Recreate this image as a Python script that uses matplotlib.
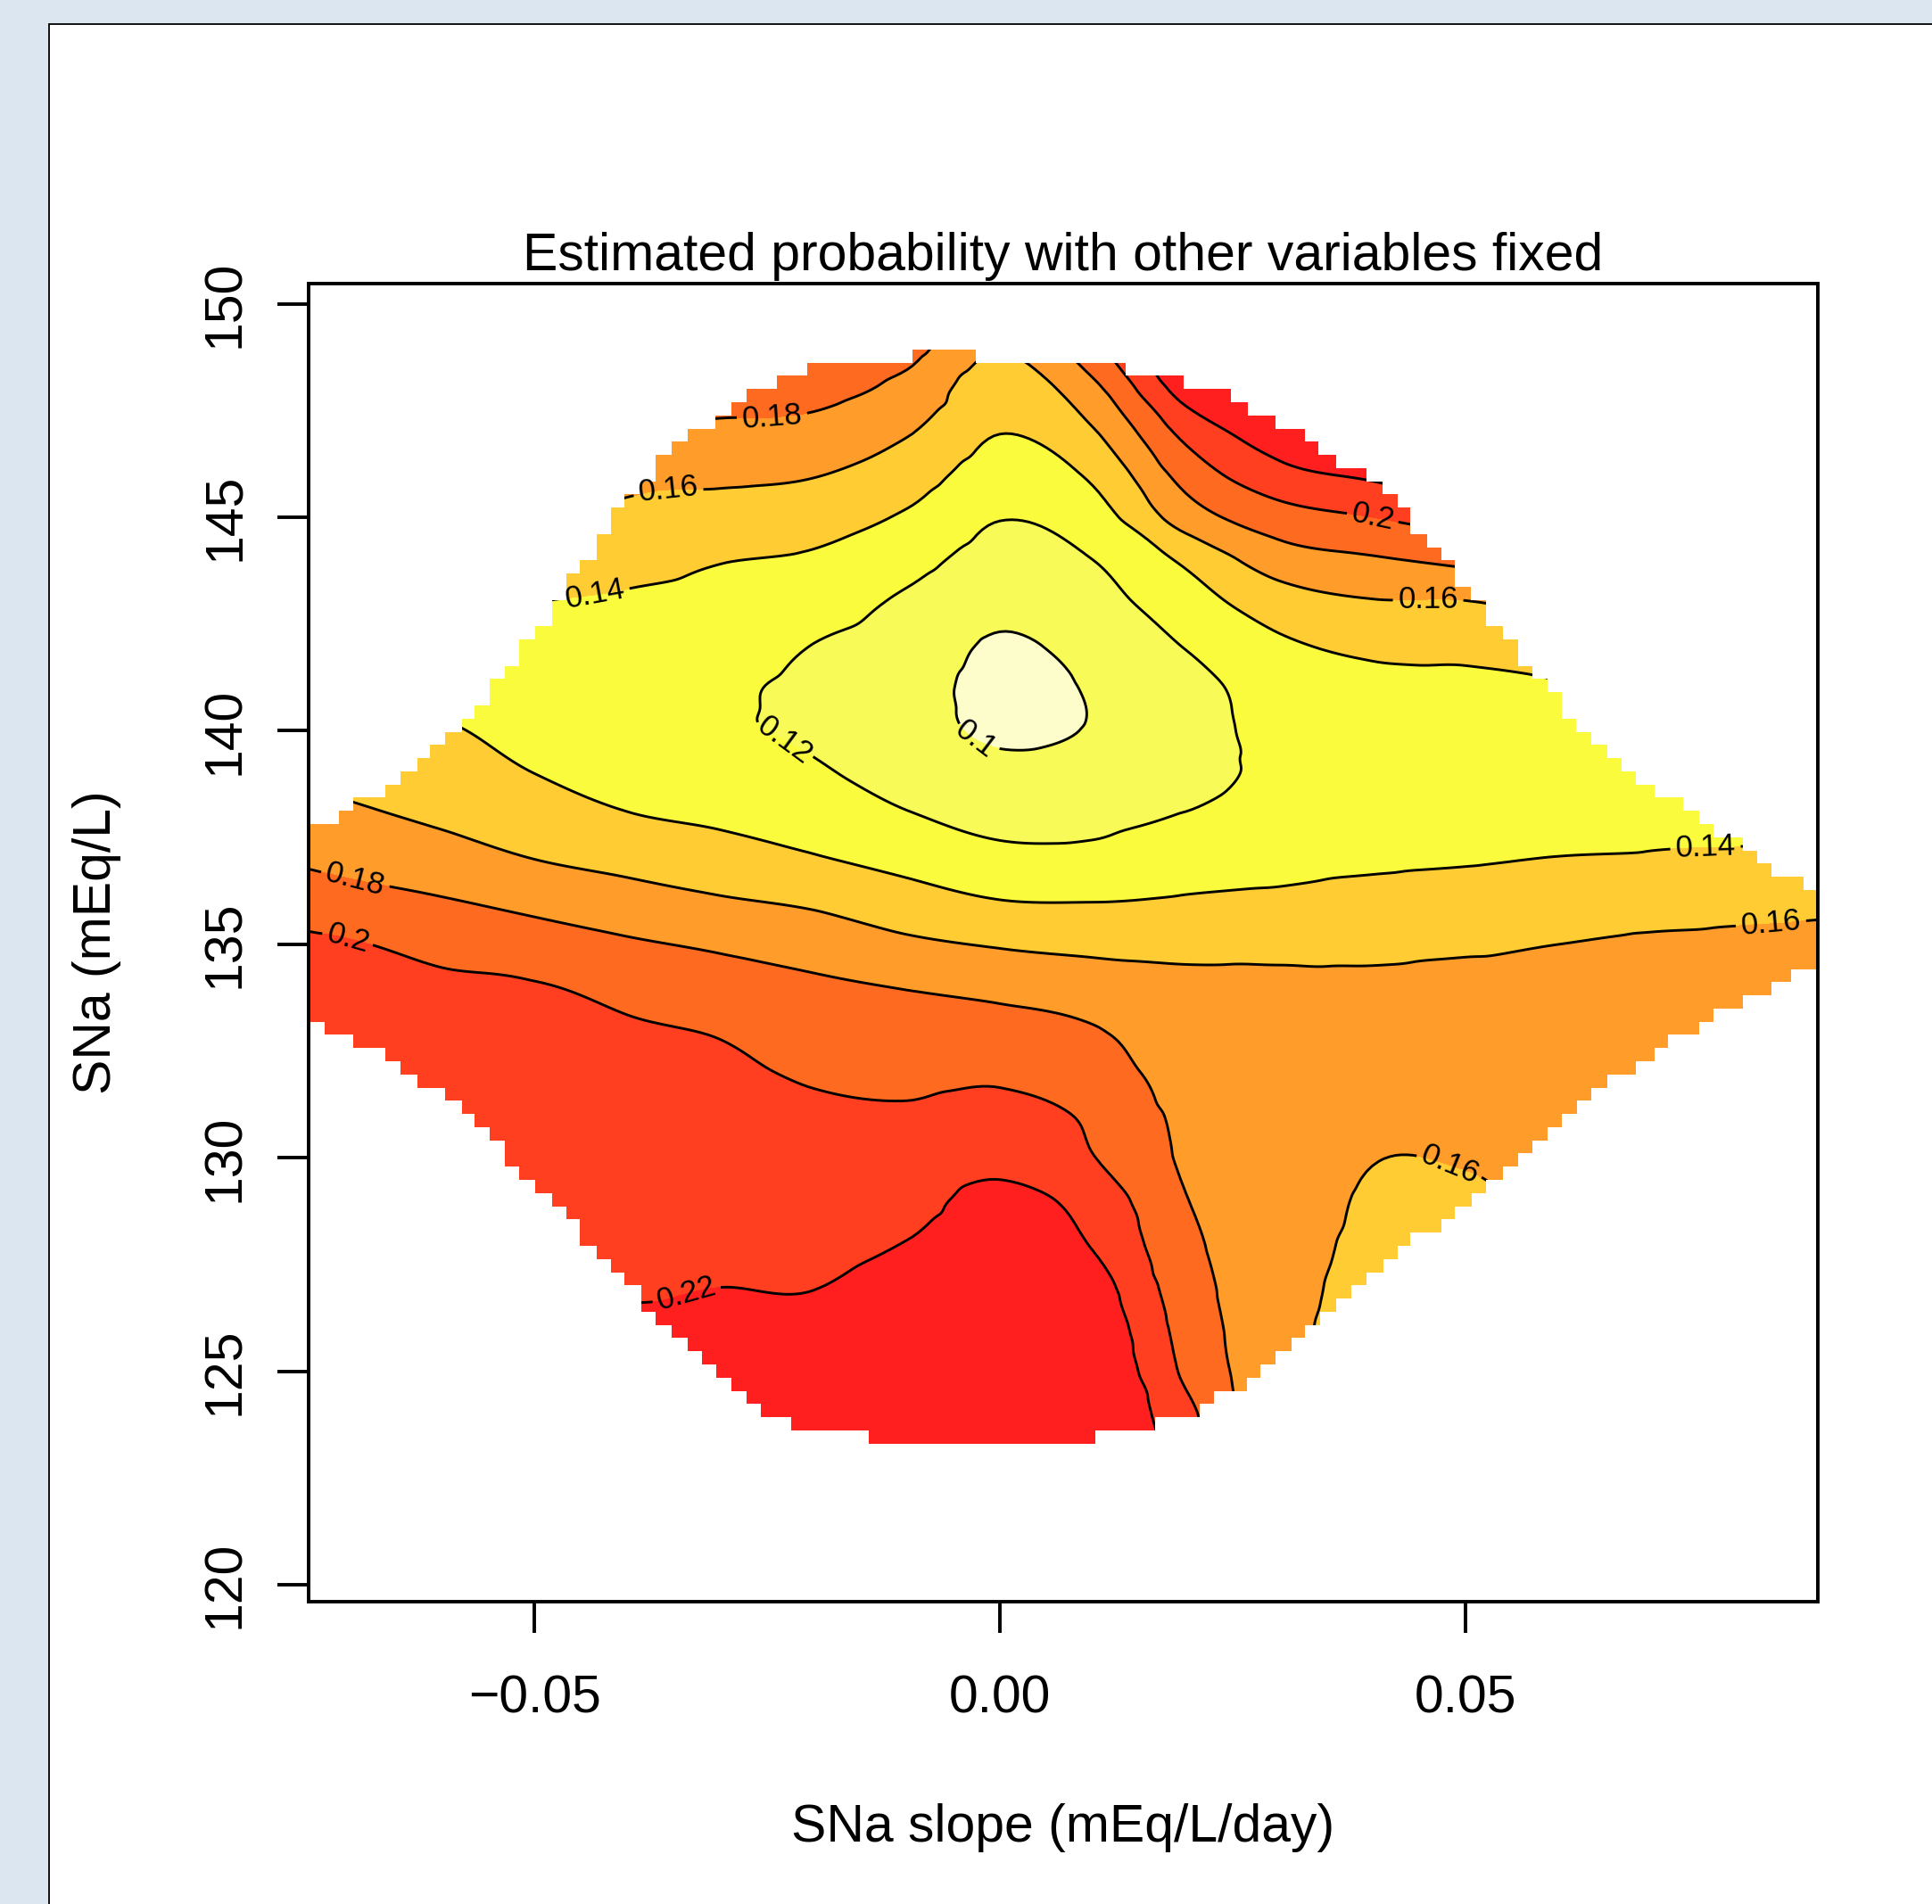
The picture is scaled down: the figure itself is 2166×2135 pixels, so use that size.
import numpy as np
import matplotlib
matplotlib.use("Agg")
import matplotlib.pyplot as plt
import matplotlib.tri as mtri
from matplotlib.path import Path
from matplotlib.patches import PathPatch, Rectangle

plt.rcParams['font.family'] = ['Liberation Sans', 'DejaVu Sans']

TITLE = "Estimated probability with other variables fixed"
X_LABEL = "SNa slope (mEq/L/day)"
Y_LABEL = "SNa (mEq/L)"

# grid nodes of the estimated surface
SLOPE = [-0.08, -0.07, -0.06, -0.05, -0.04, -0.03, -0.02, -0.01, 0.00,
         0.01, 0.02, 0.03, 0.04, 0.05, 0.06, 0.07, 0.08, 0.09]
SNA = [149, 148, 147, 146, 145, 144, 143, 142, 141, 140, 139, 138, 137,
       136, 135, 134, 133, 132, 131, 130, 129, 128, 127, 126, 125, 124, 123]

# estimated probability, one row per SNa value (top to bottom), one column per slope
PROB = [
    [0.200, 0.200, 0.200, 0.200, 0.197, 0.195, 0.193, 0.187, 0.162, 0.195, 0.245, 0.260, 0.270, 0.280, 0.290, 0.295, 0.300, 0.300],
    [0.195, 0.195, 0.194, 0.192, 0.190, 0.188, 0.186, 0.1745, 0.148, 0.175, 0.229, 0.250, 0.260, 0.270, 0.280, 0.285, 0.290, 0.290],
    [0.190, 0.190, 0.188, 0.184, 0.178, 0.176, 0.174, 0.1616, 0.1405, 0.1584, 0.206, 0.2315, 0.245, 0.255, 0.265, 0.270, 0.275, 0.275],
    [0.180, 0.180, 0.178, 0.172, 0.165, 0.164, 0.161, 0.1495, 0.1313, 0.1434, 0.1876, 0.214, 0.2235, 0.235, 0.245, 0.250, 0.255, 0.255],
    [0.165, 0.165, 0.163, 0.160, 0.1558, 0.1519, 0.1486, 0.1377, 0.1208, 0.1313, 0.1699, 0.191, 0.200, 0.210, 0.220, 0.225, 0.230, 0.230],
    [0.155, 0.155, 0.153, 0.149, 0.1455, 0.1408, 0.1373, 0.1264, 0.113, 0.120, 0.1436, 0.1704, 0.1778, 0.185, 0.195, 0.200, 0.205, 0.205],
    [0.145, 0.145, 0.143, 0.140, 0.1378, 0.1345, 0.1284, 0.117, 0.1053, 0.1132, 0.131, 0.1503, 0.1585, 0.159, 0.166, 0.172, 0.176, 0.176],
    [0.140, 0.138, 0.136, 0.135, 0.133, 0.1295, 0.1197, 0.111, 0.098, 0.1064, 0.121, 0.1368, 0.1439, 0.1449, 0.152, 0.155, 0.160, 0.160],
    [0.140, 0.138, 0.136, 0.132, 0.1295, 0.1232, 0.1155, 0.107, 0.095, 0.1015, 0.113, 0.129, 0.135, 0.136, 0.138, 0.140, 0.145, 0.145],
    [0.150, 0.148, 0.142, 0.1345, 0.129, 0.1225, 0.117, 0.107, 0.097, 0.101, 0.111, 0.127, 0.131, 0.132, 0.133, 0.136, 0.138, 0.140],
    [0.160, 0.155, 0.1499, 0.140, 0.134, 0.1314, 0.1227, 0.112, 0.1053, 0.1076, 0.111, 0.126, 0.1295, 0.131, 0.132, 0.134, 0.135, 0.137],
    [0.1696, 0.1633, 0.157, 0.150, 0.141, 0.1372, 0.1318, 0.1215, 0.1142, 0.115, 0.1211, 0.1319, 0.132, 0.133, 0.134, 0.137, 0.138, 0.139],
    [0.1809, 0.1744, 0.1679, 0.1599, 0.154, 0.1475, 0.1414, 0.134, 0.1252, 0.1248, 0.1314, 0.1345, 0.137, 0.1385, 0.1405, 0.1413, 0.1418, 0.1423],
    [0.1926, 0.1871, 0.1816, 0.1749, 0.1681, 0.1621, 0.157, 0.1481, 0.1407, 0.1398, 0.1419, 0.1435, 0.1461, 0.1483, 0.1503, 0.1521, 0.1539, 0.1557],
    [0.208, 0.2015, 0.195, 0.1888, 0.1825, 0.1773, 0.1719, 0.1636, 0.1584, 0.1555, 0.1544, 0.1544, 0.1551, 0.1573, 0.160, 0.1625, 0.164, 0.1655],
    [0.209, 0.206, 0.203, 0.2013, 0.1952, 0.1884, 0.1833, 0.1792, 0.1749, 0.1693, 0.165, 0.1648, 0.164, 0.1655, 0.1655, 0.166, 0.168, 0.170],
    [0.211, 0.209, 0.207, 0.2055, 0.2017, 0.1986, 0.1906, 0.1874, 0.1868, 0.1812, 0.1675, 0.1665, 0.1655, 0.1665, 0.167, 0.168, 0.170, 0.172],
    [0.212, 0.211, 0.210, 0.2085, 0.2045, 0.2029, 0.1979, 0.1952, 0.1967, 0.1876, 0.1735, 0.1695, 0.1655, 0.166, 0.167, 0.169, 0.172, 0.175],
    [0.214, 0.213, 0.212, 0.211, 0.2073, 0.2063, 0.203, 0.2023, 0.2057, 0.197, 0.176, 0.171, 0.1635, 0.164, 0.166, 0.170, 0.172, 0.175],
    [0.215, 0.215, 0.214, 0.213, 0.2101, 0.2097, 0.2071, 0.2084, 0.2143, 0.2006, 0.1775, 0.1705, 0.1605, 0.161, 0.165, 0.168, 0.172, 0.175],
    [0.216, 0.216, 0.215, 0.215, 0.213, 0.2131, 0.2113, 0.2144, 0.225, 0.2125, 0.1806, 0.1695, 0.158, 0.1575, 0.163, 0.167, 0.170, 0.172],
    [0.217, 0.217, 0.217, 0.217, 0.2158, 0.2165, 0.2154, 0.2204, 0.230, 0.2186, 0.1846, 0.168, 0.1565, 0.156, 0.162, 0.166, 0.170, 0.170],
    [0.218, 0.218, 0.218, 0.219, 0.2186, 0.2199, 0.2196, 0.226, 0.234, 0.2277, 0.1886, 0.167, 0.155, 0.155, 0.161, 0.165, 0.170, 0.170],
    [0.219, 0.219, 0.220, 0.221, 0.222, 0.223, 0.2235, 0.231, 0.237, 0.234, 0.1926, 0.166, 0.154, 0.155, 0.160, 0.165, 0.170, 0.170],
    [0.220, 0.220, 0.221, 0.222, 0.224, 0.226, 0.227, 0.234, 0.239, 0.238, 0.1965, 0.166, 0.155, 0.156, 0.160, 0.165, 0.170, 0.170],
    [0.220, 0.220, 0.222, 0.224, 0.226, 0.228, 0.229, 0.236, 0.240, 0.240, 0.205, 0.167, 0.158, 0.157, 0.160, 0.165, 0.170, 0.170],
    [0.220, 0.220, 0.222, 0.224, 0.226, 0.228, 0.230, 0.237, 0.240, 0.240, 0.210, 0.170, 0.160, 0.158, 0.160, 0.165, 0.170, 0.170],
]

LEVELS = [0.10, 0.12, 0.14, 0.16, 0.18, 0.20, 0.22]
BAND_EDGES = [0.0] + LEVELS + [1.0]
FILL_COLORS = ['#fdfdcc', '#f8fa58', '#fbfb3d', '#ffcc33',
               '#ff9c2a', '#ff6a21', '#ff3f1f', '#ff1f1f']

# axis ranges and the raster of the "too far" mask (100 x 100 cells)
X_RANGE = (-0.0743, 0.0878)
Y_RANGE = (119.61, 150.47)
N_GRID = 100
MASK_TOP_EDGE = 95   # grid edge index of the top of the drawn region
# left / right extent (slope units) of the drawn region in each raster row, top to bottom
MASK_LO = [-0.0094, -0.0207, -0.0240, -0.0272, -0.0288, -0.0306, -0.0335, -0.0353, -0.0370, -0.0370,
           -0.0385, -0.0403, -0.0418, -0.0418, -0.0433, -0.0433, -0.0451, -0.0466, -0.0466, -0.0481,
           -0.0481, -0.0499, -0.0516, -0.0516, -0.0532, -0.0548, -0.0548, -0.0564, -0.0578, -0.0596,
           -0.0612, -0.0626, -0.0644, -0.0660, -0.0695, -0.0710,
           -0.0745, -0.0745, -0.0745, -0.0745, -0.0745, -0.0745, -0.0745, -0.0745, -0.0745, -0.0745,
           -0.0745, -0.0745, -0.0745, -0.0745, -0.0745,
           -0.0725, -0.0695, -0.0660, -0.0644, -0.0626, -0.0596, -0.0578, -0.0564, -0.0548, -0.0532,
           -0.0532, -0.0516, -0.0499, -0.0481, -0.0466, -0.0451, -0.0451, -0.0433, -0.0418, -0.0403,
           -0.0385, -0.0385, -0.0370, -0.0353, -0.0335, -0.0320, -0.0305, -0.0288, -0.0272, -0.0257,
           -0.0224, -0.0141]
MASK_HI = [-0.0026, 0.0135, 0.0197, 0.0248, 0.0266, 0.0296, 0.0328, 0.0342, 0.0361, 0.0394,
           0.0411, 0.0427, 0.0441, 0.0441, 0.0459, 0.0474, 0.0489, 0.0489, 0.0506, 0.0522,
           0.0522, 0.0540, 0.0557, 0.0557, 0.0572, 0.0588, 0.0604, 0.0604, 0.0619, 0.0635,
           0.0652, 0.0668, 0.0683, 0.0703, 0.0734, 0.0751, 0.0766, 0.0798, 0.0813, 0.0829,
           0.0863, 0.0880, 0.0880, 0.0880, 0.0880, 0.0880, 0.0880,
           0.0850, 0.0829, 0.0798, 0.0766, 0.0751, 0.0718, 0.0703, 0.0683, 0.0652, 0.0635,
           0.0620, 0.0604, 0.0588, 0.0572, 0.0557, 0.0540, 0.0522, 0.0507, 0.0489, 0.0474,
           0.0441, 0.0427, 0.0412, 0.0394, 0.0377, 0.0361, 0.0344, 0.0328, 0.0313, 0.0296,
           0.0280, 0.0265, 0.0230, 0.0215, 0.0167, 0.0102]

LABEL_POS = [(-0.0245, 147.41), (-0.0356, 145.48), (-0.0434, 143.09), (0.0401, 145.04),
             (0.0460, 143.05), (-0.0015, 140.06), (-0.0240, 139.55), (0.0758, 137.15),
             (-0.0693, 136.48), (0.0828, 135.53), (-0.0701, 135.10), (0.0484, 129.86),
             (-0.0337, 126.83)]

X_TICKS = [-0.05, 0.00, 0.05]
X_TICK_LABELS = ['\u22120.05', '0.00', '0.05']
Y_TICKS = [120, 125, 130, 135, 140, 145, 150]

W, H = 2166, 2135
fig = plt.figure(figsize=(W / 100, H / 100), dpi=100, facecolor='#dce6f1')
panel = Rectangle((55 / W, -0.05), 1.2, 1.05 - 27 / H, transform=fig.transFigure,
                  facecolor='white', edgecolor='black', linewidth=1.3, zorder=0)
fig.add_artist(panel)

ax = fig.add_axes([345.5 / W, 1 - 1796 / H, (2037.5 - 345.5) / W, (1796 - 318) / H])
ax.set_facecolor('white')

# surface on an index-space triangulation, refined for smooth contours
nx, ny = len(SLOPE), len(SNA)
uu, vv = np.meshgrid(np.arange(nx, dtype=float), np.arange(ny, dtype=float))
tris = []
for j in range(ny - 1):
    for i in range(nx - 1):
        a = j * nx + i
        tris.append([a, a + 1, a + nx + 1])
        tris.append([a, a + nx + 1, a + nx])
tri_idx = mtri.Triangulation(uu.ravel(), vv.ravel(), np.array(tris))
z = np.array(PROB, dtype=float).ravel()
interp = mtri.CubicTriInterpolator(tri_idx, z, kind='geom')
refiner = mtri.UniformTriRefiner(tri_idx)
tri_f, z_f = refiner.refine_field(z, triinterpolator=interp, subdiv=4)
xs = np.interp(tri_f.x, np.arange(nx), SLOPE)
ys = np.interp(tri_f.y, np.arange(ny), SNA)
tri_data = mtri.Triangulation(xs, ys, tri_f.triangles)

# clip region (staircase outline of the raster mask)
dy = (Y_RANGE[1] - Y_RANGE[0]) / N_GRID
y_edges = Y_RANGE[0] + np.arange(N_GRID + 1) * dy
verts = []
nrows = len(MASK_LO)
for i in range(nrows):
    top, bot = y_edges[MASK_TOP_EDGE - i], y_edges[MASK_TOP_EDGE - i - 1]
    verts += [(MASK_HI[i], top), (MASK_HI[i], bot)]
for i in reversed(range(nrows)):
    top, bot = y_edges[MASK_TOP_EDGE - i], y_edges[MASK_TOP_EDGE - i - 1]
    verts += [(MASK_LO[i], bot), (MASK_LO[i], top)]
verts.append(verts[0])
codes = [Path.MOVETO] + [Path.LINETO] * (len(verts) - 2) + [Path.CLOSEPOLY]
clip = PathPatch(Path(verts, codes), transform=ax.transData, facecolor='none', edgecolor='none')

fill = ax.tricontourf(tri_data, z_f, levels=BAND_EDGES, colors=FILL_COLORS, zorder=1)
fill.set_clip_path(clip)
lines = ax.tricontour(tri_data, z_f, levels=LEVELS, colors='black', linewidths=2.1, zorder=2)
ax.clabel(lines, manual=LABEL_POS, inline=True, inline_spacing=4,
          fmt=lambda v: f"{v:g}", fontsize=25, colors='black')
lines.set_clip_path(clip)

ax.set_xlim(*X_RANGE)
ax.set_ylim(*Y_RANGE)
ax.set_xticks(X_TICKS)
ax.set_xticklabels(X_TICK_LABELS)
ax.set_yticks(Y_TICKS)
ax.set_yticklabels([str(v) for v in Y_TICKS])
for s in ax.spines.values():
    s.set_linewidth(2.8)
ax.tick_params(axis='both', direction='out', length=25, width=2.8, labelsize=42.4)
ax.tick_params(axis='x', pad=34)
ax.tick_params(axis='y', pad=22, labelrotation=90)
for lab in ax.get_yticklabels():
    lab.set_va('center')

cx = (345.5 + 2037.5) / 2 / W
fig.text(cx, 1 - 303 / H, TITLE, ha='center', va='baseline', fontsize=42.4)
fig.text(cx, 1 - 2065 / H, X_LABEL, ha='center', va='baseline', fontsize=42.4)
fig.text(108 / W, 1 - 1057 / H, Y_LABEL, ha='center', va='center', rotation=90, fontsize=42.4)

fig.savefig('out.png', dpi=100, facecolor=fig.get_facecolor())
